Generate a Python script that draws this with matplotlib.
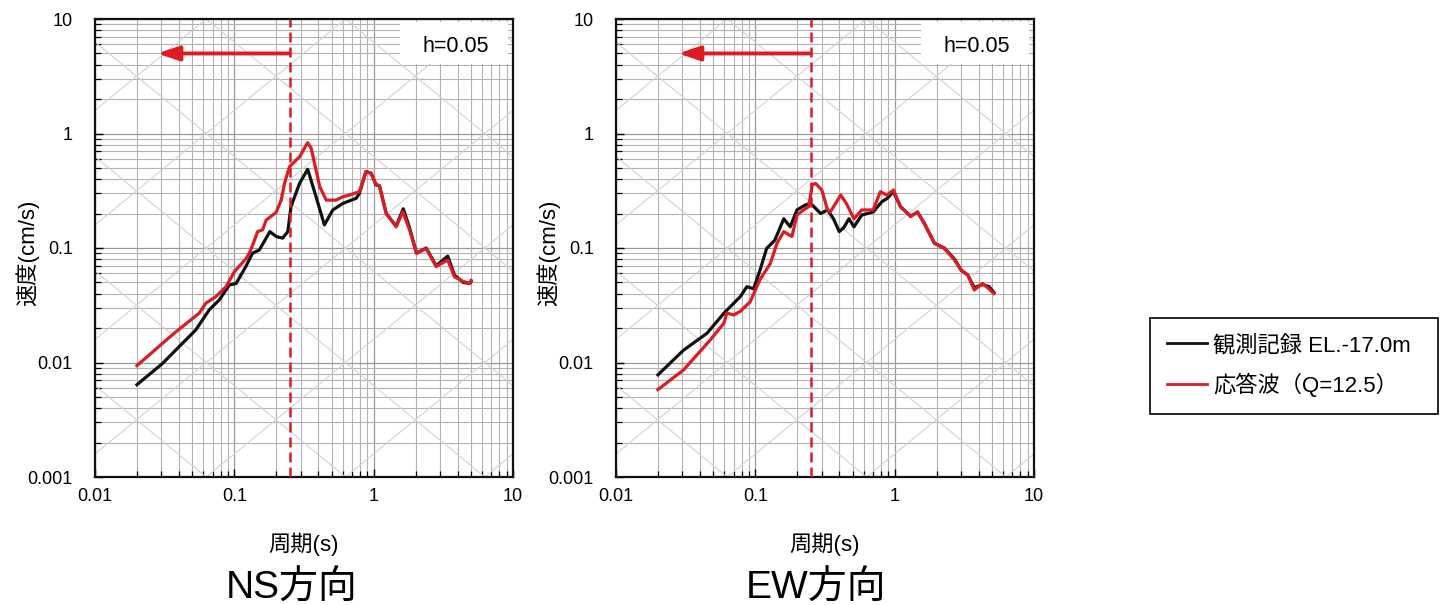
import numpy as np
import matplotlib
matplotlib.use('Agg')
import matplotlib.pyplot as plt
from matplotlib.lines import Line2D
from matplotlib.patches import Rectangle

plt.rcParams['font.family'] = ['Liberation Sans', 'Noto Sans CJK JP']

# ---------------- data ----------------
ns_obs_T = [0.02, 0.0305, 0.0424, 0.0528, 0.066, 0.078, 0.092, 0.103, 0.121, 0.135, 0.151,
            0.18, 0.1995, 0.222, 0.242, 0.255, 0.294, 0.336, 0.386, 0.443, 0.509, 0.60,
            0.75, 0.79, 0.88, 0.96, 1.04, 1.10, 1.23, 1.45, 1.63, 1.81, 2.03, 2.38, 2.81,
            3.4, 3.8, 4.4, 4.9, 5.0]
ns_obs_V = [0.0064, 0.0098, 0.0147, 0.0192, 0.0288, 0.0352, 0.0475, 0.049, 0.069, 0.090, 0.096,
            0.139, 0.126, 0.122, 0.139, 0.23, 0.367, 0.487, 0.28, 0.159, 0.215, 0.245,
            0.272, 0.30, 0.465, 0.449, 0.355, 0.35, 0.20, 0.155, 0.22, 0.15, 0.09, 0.10, 0.07,
            0.085, 0.058, 0.05, 0.049, 0.051]

ns_sim_T = [0.02, 0.037, 0.056, 0.0625, 0.0737, 0.0872, 0.100, 0.1214, 0.128, 0.135, 0.147,
            0.1596, 0.169, 0.1995, 0.217, 0.229, 0.249, 0.294, 0.336, 0.356, 0.41, 0.457,
            0.536, 0.60, 0.67, 0.79, 0.88, 0.96, 1.04, 1.10, 1.23, 1.45, 1.62, 1.81, 2.03,
            2.38, 2.81, 3.4, 3.8, 4.4, 4.9, 5.0]
ns_sim_V = [0.0094, 0.018, 0.027, 0.033, 0.0376, 0.046, 0.062, 0.081, 0.090, 0.105, 0.139,
            0.144, 0.175, 0.205, 0.262, 0.367, 0.513, 0.627, 0.832, 0.743, 0.344, 0.262,
            0.262, 0.28, 0.29, 0.31, 0.465, 0.449, 0.36, 0.35, 0.201, 0.153, 0.207, 0.144, 0.090,
            0.099, 0.069, 0.0785, 0.056, 0.051, 0.049, 0.052]

ew_obs_T = [0.02, 0.0305, 0.045, 0.0594, 0.068, 0.078, 0.087, 0.0972, 0.108, 0.1205, 0.138,
            0.16, 0.178, 0.199, 0.229, 0.249, 0.27, 0.294, 0.33, 0.364, 0.40, 0.43, 0.47,
            0.51, 0.58, 0.70, 0.81, 0.88, 0.98, 1.10, 1.30, 1.46, 1.63, 1.93, 2.27, 2.69,
            3.0, 3.35, 3.73, 4.26, 4.75, 5.15]
ew_obs_V = [0.0078, 0.0128, 0.018, 0.0269, 0.0318, 0.0376, 0.046, 0.044, 0.064, 0.099, 0.117,
            0.18, 0.153, 0.215, 0.238, 0.245, 0.222, 0.20, 0.215, 0.18, 0.139, 0.15, 0.18,
            0.153, 0.194, 0.206, 0.254, 0.27, 0.31, 0.23, 0.19, 0.205, 0.165, 0.11, 0.10, 0.08,
            0.064, 0.058, 0.045, 0.048, 0.046, 0.041]

ew_sim_T = [0.02, 0.0305, 0.0474, 0.0594, 0.0625, 0.07, 0.078, 0.092, 0.108, 0.128, 0.143,
            0.16, 0.183, 0.199, 0.222, 0.242, 0.256, 0.27, 0.30, 0.33, 0.345, 0.41, 0.45,
            0.51, 0.58, 0.70, 0.79, 0.88, 0.98, 1.10, 1.30, 1.46, 1.63, 1.93, 2.27, 2.69,
            3.0, 3.35, 3.73, 4.26, 4.75, 5.15]
ew_sim_V = [0.0058, 0.0086, 0.0157, 0.022, 0.027, 0.026, 0.028, 0.034, 0.053, 0.073, 0.11,
            0.139, 0.126, 0.194, 0.215, 0.23, 0.355, 0.367, 0.321, 0.215, 0.206, 0.29, 0.245,
            0.18, 0.215, 0.215, 0.31, 0.29, 0.321, 0.23, 0.188, 0.207, 0.164, 0.11, 0.099, 0.0785,
            0.064, 0.058, 0.043, 0.049, 0.044, 0.040]

panel_titles = ['NS方向', 'EW方向']
legend_labels = ['観測記録 EL.-17.0m', '応答波（Q=12.5）']
x_ticks = [0.01, 0.1, 1, 10]
x_ticklabels = ['0.01', '0.1', '1', '10']
y_ticks = [0.001, 0.01, 0.1, 1, 10]
y_ticklabels = ['0.001', '0.01', '0.1', '1', '10']
cutoff_period = 0.25
arrow_tip_period = 0.028
arrow_level = 5.0
damping_label = 'h=0.05'
x_label = '周期(s)'
y_label = '速度(cm/s)'

RED = '#dc1c25'
BLACK = '#111111'
W, H = 1441, 605

fig = plt.figure(figsize=(W / 100, H / 100), dpi=100)

panels = [
    (95, ns_obs_T, ns_obs_V, ns_sim_T, ns_sim_V, panel_titles[0], 292),
    (616, ew_obs_T, ew_obs_V, ew_sim_T, ew_sim_V, panel_titles[1], 816),
]

for left_px, oT, oV, sT, sV, title, title_x in panels:
    ax = fig.add_axes([left_px / W, 1 - 477 / H, 418 / W, 458 / H])
    ax.set_xscale('log')
    ax.set_yscale('log')
    ax.set_xlim(0.01, 10)
    ax.set_ylim(0.001, 10)
    ax.set_axisbelow(True)

    # grid
    ax.grid(True, which='major', color='#9a9a9a', lw=0.9)
    ax.grid(True, which='minor', color='#b3b3b3', lw=0.8)

    # tripartite diagonals (constant acceleration / displacement)
    Tg = np.logspace(-2, 1, 20)
    for n in range(-4, 5):
        ax.plot(Tg, (10.0 ** n) * Tg / (2 * np.pi), color='#d2d2d2', lw=0.8, zorder=0.8)
    for n in range(-6, 3):
        ax.plot(Tg, 2 * np.pi * (10.0 ** n) / Tg, color='#d2d2d2', lw=0.8, zorder=0.8)

    ax.set_xticks(x_ticks)
    ax.set_xticklabels(x_ticklabels)
    ax.set_yticks(y_ticks)
    ax.set_yticklabels(y_ticklabels)
    ax.tick_params(which='both', direction='in', top=False, right=False)
    ax.tick_params(which='major', length=6, width=1.0)
    ax.tick_params(which='minor', length=4, width=0.9)
    ax.tick_params(axis='y', labelsize=13, pad=16)
    ax.tick_params(axis='x', labelsize=13, pad=8)
    ax.xaxis.set_minor_formatter(plt.NullFormatter())
    ax.yaxis.set_minor_formatter(plt.NullFormatter())
    for sp in ax.spines.values():
        sp.set_linewidth(1.6)
        sp.set_color('#111111')

    # h box
    ax.add_patch(Rectangle((305 / 418, 1 - (64 - 19) / 458), 108 / 418, 42 / 458,
                           transform=ax.transAxes, facecolor='white', edgecolor='none', zorder=2))
    ax.text(0.864, 0.939, damping_label, transform=ax.transAxes, ha='center', va='center',
            fontsize=15.5, zorder=3)

    # curves
    ax.plot(oT, oV, color=BLACK, lw=2.3, zorder=4)
    ax.plot(sT, sV, color=RED, lw=2.3, zorder=5)

    # cutoff line and arrow
    ax.axvline(cutoff_period, color=RED, lw=1.8, ls=(0, (4, 2)), zorder=6)
    ax.annotate('', xy=(arrow_tip_period, arrow_level), xytext=(cutoff_period, arrow_level),
                arrowprops=dict(arrowstyle='-|>,head_length=0.65,head_width=0.22',
                                mutation_scale=20, color=RED, lw=2.8,
                                shrinkA=0, shrinkB=0), zorder=7)

    ax.set_xlabel(x_label, fontsize=16)
    ax.xaxis.set_label_coords(0.5, (477 - 533) / 458)
    ax.set_ylabel(y_label, fontsize=16)
    ax.yaxis.set_label_coords((39 - 95) / 418, 0.49)

    fig.text(title_x / W, 1 - 589 / H, title, ha='center', va='center', fontsize=28)

handles = [Line2D([], [], color=BLACK, lw=2.0), Line2D([], [], color=RED, lw=2.0)]
leg = fig.legend(handles, legend_labels, loc='upper left',
                 bbox_to_anchor=(1150 / W, 1 - 318 / H, 288 / W, 0.0), mode='expand',
                 frameon=True, fancybox=False, framealpha=1, edgecolor='#111111',
                 borderaxespad=0, fontsize=16, handlelength=1.8, handletextpad=0.3,
                 labelspacing=0.75, borderpad=0.75)
leg.get_frame().set_linewidth(1.3)

fig.savefig('out.png', dpi=100, facecolor='white')
